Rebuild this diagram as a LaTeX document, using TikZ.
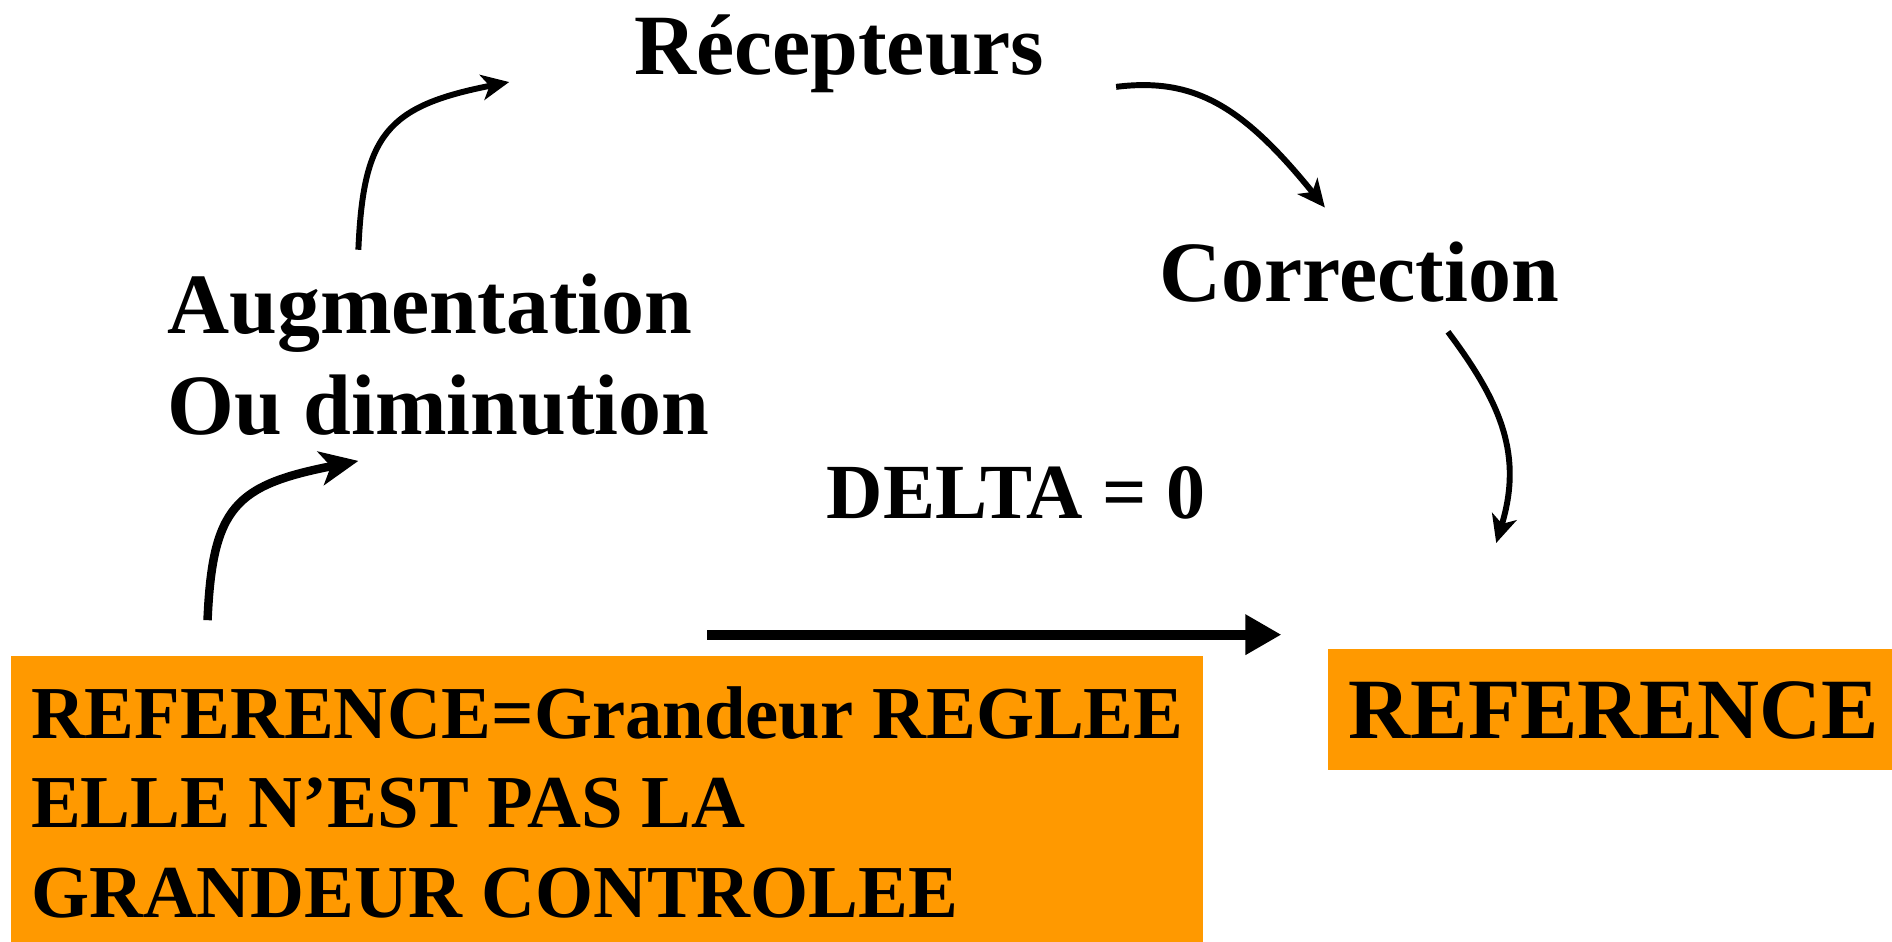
\documentclass[tikz,border=0pt]{standalone}
\usepackage{fontspec}
\setmainfont{Liberation Serif}
\usetikzlibrary{arrows.meta}
\definecolor{boxorange}{RGB}{255,153,0}
\tikzset{
  big/.style={font=\bfseries\fontsize{20.25}{24}\selectfont, inner sep=0pt},
  mid/.style={font=\bfseries\fontsize{17.6}{21}\selectfont, inner sep=0pt},
  delt/.style={font=\bfseries\fontsize{18.4}{22}\selectfont, inner sep=0pt},
  orangebox/.style={fill=boxorange, draw=none, inner sep=0pt, anchor=north west},
  thinarrow/.style={line width=1.4pt, -{Stealth[length=6.5pt, width=6pt, inset=1.8pt]}},
  medarrow/.style={line width=2.0pt, -{Stealth[length=9pt, width=8pt, inset=2.4pt]}},
  thickarrow/.style={line width=2.3pt, -{Triangle[length=8.5pt, width=9pt]}}
}
\begin{document}
\begin{tikzpicture}[x=0.01cm, y=-0.01cm]
\path[use as bounding box] (0,0) rectangle (1568,780);

% boxes
\node[orangebox, minimum width=9.88cm, minimum height=2.37cm] (refbox) at (8,543) {};
\node[orangebox, minimum width=4.68cm, minimum height=1.00cm] (refbox2) at (1100,537) {};

% texts
\node[big, anchor=base] (rec) at (695.5,62) {Récepteurs};
\node[big, anchor=base] (cor) at (1126.5,250) {Correction};
\node[big, anchor=base west] (aug) at (138,276) {Augmentation};
\node[big, anchor=base west] (dim) at (138,360) {Ou diminution};
\node[delt, anchor=base] (delta) at (842,430) {DELTA = 0};
\node[mid, anchor=base west] (l1) at (25,612) {REFERENCE=Grandeur REGLEE};
\node[mid, anchor=base west] (l2) at (25,686) {ELLE N’EST PAS LA};
\node[mid, anchor=base west] (l3) at (25,760) {GRANDEUR CONTROLEE};
\node[big, anchor=base west] (ref) at (1117,612) {REFERENCE};

% connector end points
\coordinate (s1) at (172,514);
\coordinate (e1) at (297,382);
\coordinate (s2) at (297,207);
\coordinate (e2) at (422,68);
\coordinate (s3) at (925,72);
\coordinate (e3) at (1098,172);
\coordinate (s4) at (1200,275);
\coordinate (e4) at (1240,450);
\coordinate (s5) at (586,526);
\coordinate (e5) at (1062,526);

% connectors
\draw[medarrow] (s1) .. controls (176,420) and (195,402) .. (e1);
\draw[thinarrow] (s2) .. controls (301,112) and (320,88) .. (e2);
\draw[thinarrow] (s3) .. controls (990,64) and (1030,88) .. (e3);
\draw[thinarrow] (s4) .. controls (1245,335) and (1262,378) .. (e4);
\draw[thickarrow] (s5) -- (e5);
\end{tikzpicture}
\end{document}
